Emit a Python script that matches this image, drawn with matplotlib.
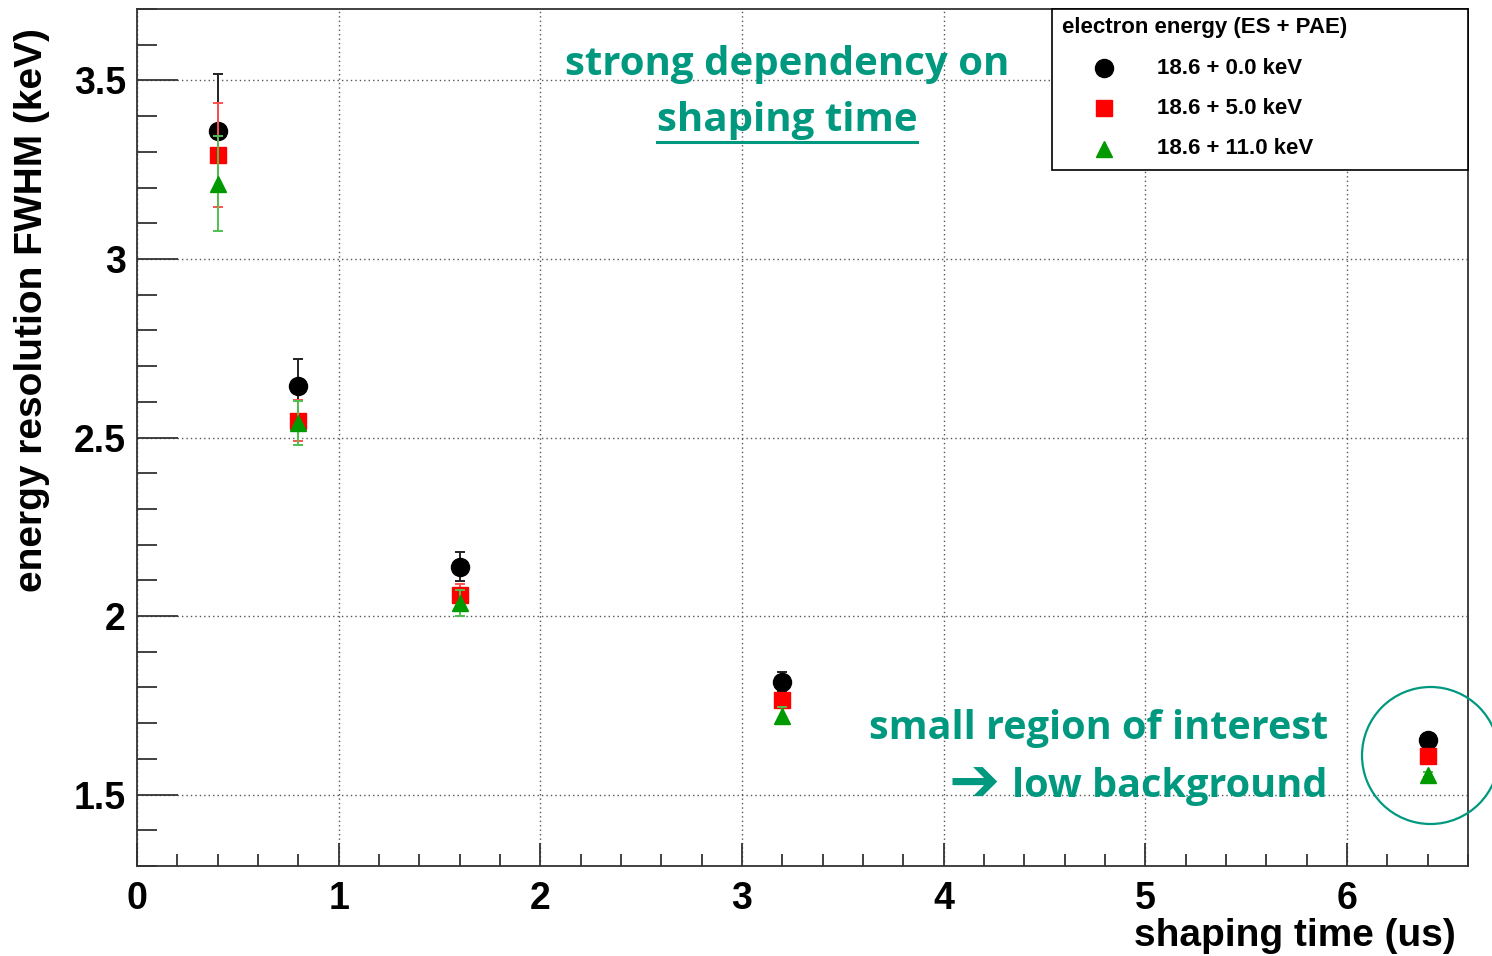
import matplotlib
matplotlib.use("Agg")
import matplotlib.pyplot as plt
from matplotlib.patches import Ellipse, Rectangle
from matplotlib.lines import Line2D
from matplotlib.ticker import MultipleLocator

# ---- data ----
shaping_time = [0.4, 0.8, 1.6, 3.2, 6.4]
fwhm_e0 = [3.358, 2.644, 2.138, 1.816, 1.652]
err_e0 = [0.160, 0.077, 0.040, 0.026, 0.006]
fwhm_e5 = [3.291, 2.547, 2.059, 1.764, 1.607]
err_e5 = [0.145, 0.058, 0.030, 0.018, 0.006]
fwhm_e11 = [3.211, 2.540, 2.036, 1.721, 1.556]
err_e11 = [0.134, 0.062, 0.036, 0.024, 0.006]
labels = ["18.6 + 0.0 keV", "18.6 + 5.0 keV", "18.6 + 11.0 keV"]
legend_title = "electron energy (ES + PAE)"

W, H = 1492, 956
fig = plt.figure(figsize=(W / 100, H / 100), dpi=100)
L, R, T, B = 137, 1468, 9, 866
ax = fig.add_axes([L / W, 1 - B / H, (R - L) / W, (B - T) / H])

FONT = "Liberation Sans"
TEAL = "#00997f"

series = [
    (fwhm_e0, err_e0, "o", "black", "#222222", 13.0),
    (fwhm_e5, err_e5, "s", "#ff0000", "#ff5050", 11.5),
    (fwhm_e11, err_e11, "^", "#009900", "#50c050", 11.5),
]
for i, (y, e, m, c, ec, ms) in enumerate(series):
    ax.errorbar(shaping_time, y, yerr=e, fmt=m, color=c, ecolor=ec,
                markersize=ms, mec=c, mfc=c, elinewidth=1.4,
                capsize=3.5, capthick=1.4, zorder=3 + i)

ax.set_xlim(0, 6.6)
ax.set_ylim(1.3, 3.7)
ax.xaxis.set_major_locator(MultipleLocator(1))
ax.xaxis.set_minor_locator(MultipleLocator(0.2))
ax.yaxis.set_major_locator(MultipleLocator(0.5))
ax.yaxis.set_minor_locator(MultipleLocator(0.1))

ax.grid(True, which="major", color="#555555", linestyle=(0, (1, 2.2)), linewidth=1.0)
ax.set_axisbelow(True)

for s in ax.spines.values():
    s.set_color("#333333")
    s.set_linewidth(1.3)

ax.tick_params(axis="both", which="both", direction="in", color="#333333",
               width=1.3, top=False, right=False)
ax.tick_params(axis="x", which="major", length=16.5, pad=11)
ax.tick_params(axis="x", which="minor", length=8.6)
ax.tick_params(axis="y", which="major", length=29.5, pad=8)
ax.tick_params(axis="y", which="minor", length=14.4)

ax.set_xticks([0, 1, 2, 3, 4, 5, 6])
ax.set_xticklabels(["0", "1", "2", "3", "4", "5", "6"])
ax.set_yticks([1.5, 2, 2.5, 3, 3.5])
ax.set_yticklabels(["1.5", "2", "2.5", "3", "3.5"])
for lab in ax.get_xticklabels() + ax.get_yticklabels():
    lab.set_fontfamily(FONT)
    lab.set_fontweight("bold")
    lab.set_fontsize(27)

fig.text(1456 / W, 1 - 936 / H, "shaping time (us)", ha="right", va="center",
         fontsize=28, fontweight="bold", family=FONT)
fig.text(32 / W, 1 - 310 / H, "energy resolution FWHM (keV)", ha="center", va="center",
         rotation=90, fontsize=28, fontweight="bold", family=FONT)

# legend box (manual)
def axf(px, py):
    return ((px - L) / (R - L), (B - py) / (B - T))

x0, y0 = axf(1052, 170)
x1, y1 = axf(1468, 9)
ax.add_patch(Rectangle((x0, y0), x1 - x0, y1 - y0, transform=ax.transAxes,
                       facecolor="white", edgecolor="black", linewidth=1.2,
                       zorder=10, clip_on=False))
tx, ty = axf(1062, 27)
ax.text(tx, ty, legend_title, transform=ax.transAxes, ha="left", va="center",
        fontsize=16, fontweight="bold", family=FONT, zorder=11)
for k, (row_y, (y, e, m, c, ec, ms)) in enumerate(zip([68, 108, 149], series)):
    mx, my = axf(1104, row_y)
    ax.plot([mx], [my], marker=m, color=c, markersize=ms, mec=c,
            linestyle="none", transform=ax.transAxes, zorder=11, clip_on=False)
    lx, _ = axf(1157, row_y)
    ax.text(lx, my, labels[k], transform=ax.transAxes, ha="left", va="center",
            fontsize=16, fontweight="bold", family=FONT, zorder=11)

# annotations
afam = ["Open Sans", "DejaVu Sans"]
fig.text(787 / W, 1 - 65 / H, "strong dependency on", ha="center", va="center",
         fontsize=29, fontweight="bold", family=afam, color=TEAL)
t2 = fig.text(787 / W, 1 - 121 / H, "shaping time", ha="center", va="center",
              fontsize=29, fontweight="bold", family=afam, color=TEAL)
fig.text(1328 / W, 1 - 729 / H, "small region of interest", ha="right", va="center",
         fontsize=28.5, fontweight="bold", family=afam, color=TEAL)
fig.text(1328 / W, 1 - 786 / H, "low background", ha="right", va="center",
         fontsize=28.5, fontweight="bold", family=afam, color=TEAL)
fig.text(974 / W, 1 - 785 / H, "\u2794", ha="center", va="center",
         fontsize=44, fontweight="bold", family=["DejaVu Sans"], color=TEAL)

fig.canvas.draw()
bb = t2.get_window_extent()
fig.add_artist(Line2D([bb.x0 / W, bb.x1 / W], [1 - 142 / H, 1 - 142 / H],
                      transform=fig.transFigure, color=TEAL, linewidth=2.2))

fig.add_artist(Ellipse((1430.5 / W, 1 - 755.5 / H), 137 / W, 137 / H,
                       transform=fig.transFigure, fill=False, edgecolor=TEAL,
                       linewidth=1.6, zorder=20))

fig.savefig("out.png", dpi=100)
